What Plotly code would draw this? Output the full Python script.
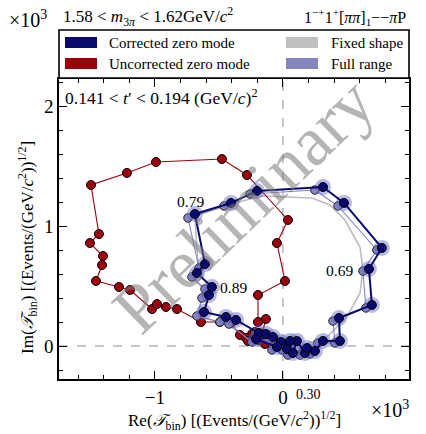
import plotly.graph_objects as go

# ---------------- data (units of 10^3) ----------------
red_re = [-0.023, -0.086, -0.141, -0.195, -0.242, -0.164, -0.133, -0.195, -0.195, 0.016, -0.047, 0.039,
          -0.281, -0.477, -0.992, -1.219, -1.500, -1.438, -1.508, -1.406, -1.414, -1.461, -1.281, -1.195,
          -1.023, -0.984, -0.914, -0.828, -0.641, -0.492, -0.406, -0.336, -0.289, -0.219, -0.273]
red_im = [0.025, 0.042, 0.017, 0.050, 0.100, 0.100, 0.225, 0.200, 0.425, 0.542, 0.858, 1.050,
          1.425, 1.558, 1.533, 1.442, 1.342, 0.933, 0.858, 0.750, 0.675, 0.542, 0.492, 0.467,
          0.308, 0.350, 0.325, 0.308, 0.200, 0.200, 0.192, 0.092, 0.067, 0.117, 0.042]

blue_re = [-0.016, 0.031, 0.078, 0.109, 0.172, 0.188, 0.250, 0.313, 0.445, 0.438, 0.695, 0.672,
           0.773, 0.477, 0.313, -0.203, -0.406, -0.688, -0.609, -0.672, -0.555, -0.578, -0.617,
           -0.445, -0.367, -0.188, -0.133, -0.078, -0.211, -0.047, 0.055]
blue_im = [0.033, -0.025, -0.058, 0.042, -0.058, -0.017, -0.042, 0.042, 0.042, 0.233, 0.342, 0.642,
           0.817, 1.192, 1.325, 1.292, 1.192, 1.100, 0.683, 0.608, 0.492, 0.425, 0.283,
           0.242, 0.217, 0.108, 0.100, 0.075, 0.058, -0.008, 0.042]

full_re = [-0.055, -0.008, 0.039, 0.070, 0.133, 0.156, 0.211, 0.273, 0.406, 0.391, 0.648, 0.625,
           0.734, 0.430, 0.250, -0.258, -0.461, -0.742, -0.656, -0.711, -0.609, -0.633, -0.672,
           -0.492, -0.422, -0.242, -0.180, -0.117, -0.086, 0.016]
full_im = [0.008, -0.033, -0.075, 0.025, -0.075, -0.042, -0.067, 0.025, 0.025, 0.208, 0.317, 0.625,
           0.800, 1.167, 1.300, 1.267, 1.167, 1.067, 0.650, 0.575, 0.475, 0.400, 0.250,
           0.200, 0.183, 0.033, 0.067, 0.050, -0.033, 0.008]

fixed_re = [-0.117, 0.016, 0.133, 0.234, 0.344, 0.500, 0.602, 0.625, 0.602, 0.484, 0.367, 0.227,
            -0.164, -0.375, -0.688, -0.664, -0.703, -0.609, -0.641, -0.656, -0.461, -0.313, -0.195, -0.117]
fixed_im = [0.042, 0.008, 0.000, 0.033, 0.075, 0.242, 0.442, 0.633, 0.825, 1.050, 1.175, 1.233,
            1.250, 1.192, 1.083, 0.667, 0.567, 0.467, 0.383, 0.250, 0.183, 0.108, 0.058, 0.042]

mass_labels = ["0.79", "0.89", "0.69"]
mass_label_re = [-0.72, -0.39, 0.44]
mass_label_im = [1.205, 0.49, 0.63]

x_range = [-1.75, 0.985]
y_range = [-0.275, 2.225]

# ---------------- figure ----------------
W, H = 426, 434
ML, MR, MT, MB = 59, 17, 79, 55
PW, PH = W - ML - MR, H - MT - MB

def px(xp):
    return (xp - ML) / PW

def py(yp):
    return (H - MB - yp) / PH

SERIF = "Liberation Serif, Times New Roman, serif"
NAVY = "#0a0a6e"
RED = "#9c0010"
LAV = "#8686c2"
GREY = "#bdbdbd"

fig = go.Figure()

fig.add_trace(go.Scatter(x=fixed_re, y=fixed_im, mode="lines",
                         line=dict(color=GREY, width=1.6), hoverinfo="skip"))
fig.add_trace(go.Scatter(x=red_re, y=red_im, mode="lines+markers",
                         line=dict(color=RED, width=1.1),
                         marker=dict(size=9, color=RED, line=dict(color="black", width=1))))
fig.add_trace(go.Scatter(x=full_re, y=full_im, mode="lines+markers",
                         line=dict(color=LAV, width=1.1),
                         marker=dict(size=8.5, color=LAV, line=dict(color="#222", width=1))))
fig.add_trace(go.Scatter(x=blue_re, y=blue_im, mode="markers",
                         marker=dict(size=16, color="rgba(100,100,200,0.45)", line=dict(width=0))))
fig.add_trace(go.Scatter(x=blue_re, y=blue_im, mode="lines+markers",
                         line=dict(color=NAVY, width=2),
                         marker=dict(size=9, color=NAVY, line=dict(color="black", width=1))))

axis_common = dict(showline=True, linecolor="black", linewidth=1.6, mirror="ticks",
                   ticks="inside", ticklen=8, tickwidth=1, tickcolor="black",
                   showgrid=False, zeroline=False,
                   tickfont=dict(family=SERIF, size=19, color="black"),
                   minor=dict(ticks="inside", ticklen=4, tickwidth=1, tickcolor="black",
                              dtick=0.2, tick0=0, showgrid=False))

fig.update_xaxes(range=x_range, dtick=1, tick0=0, **axis_common)
fig.update_yaxes(range=y_range, dtick=1, tick0=0, **axis_common)

shapes = [
    dict(type="line", xref="x", yref="paper", x0=0, x1=0, y0=0, y1=1,
         line=dict(color="#909090", width=1, dash="dash"), layer="below"),
    dict(type="line", xref="paper", yref="y", x0=0, x1=1, y0=0, y1=0,
         line=dict(color="#909090", width=1, dash="dash"), layer="below"),
    # legend frame
    dict(type="rect", xref="paper", yref="paper", x0=0, x1=1, y0=py(78), y1=py(30),
         line=dict(color="black", width=1.6), fillcolor="white"),
    dict(type="rect", xref="paper", yref="paper", x0=px(65), x1=px(97), y0=py(48), y1=py(37),
         line=dict(width=0), fillcolor=NAVY),
    dict(type="rect", xref="paper", yref="paper", x0=px(65), x1=px(97), y0=py(69), y1=py(58),
         line=dict(width=0), fillcolor="#990008"),
    dict(type="rect", xref="paper", yref="paper", x0=px(286), x1=px(318), y0=py(48), y1=py(37),
         line=dict(width=0), fillcolor="#c0c0c0"),
    dict(type="rect", xref="paper", yref="paper", x0=px(286), x1=px(318), y0=py(69), y1=py(58),
         line=dict(width=0), fillcolor="#8585c0"),
]

def ann(text, xp, yp, size=14, xanchor="left", yanchor="middle", color="black", **kw):
    return dict(text=text, xref="paper", yref="paper", x=px(xp), y=py(yp),
                xanchor=xanchor, yanchor=yanchor, showarrow=False,
                font=dict(family=SERIF, size=size, color=color), **kw)

annotations = [
    ann("×10<sup>3</sup>", 7, 19, size=20),
    ann("1.58 &lt; <i>m</i><sub>3<i>π</i></sub> &lt; 1.62GeV/<i>c</i><sup>2</sup>", 61, 17, size=17),
    ann("1<sup>−+</sup>1<sup>+</sup>[<i>ππ</i>]<sub>1</sub>−−<i>π</i>P", 408, 17, size=16, xanchor="right"),
    ann("Corrected zero mode", 107, 43, size=15),
    ann("Uncorrected zero mode", 107, 64, size=15),
    ann("Fixed shape", 329, 43, size=15),
    ann("Full range", 329, 64, size=15),
    ann("0.141 &lt; <i>t</i>′ &lt; 0.194 (GeV/<i>c</i>)<sup>2</sup>", 63, 97, size=17.5),
    ann("Re(<i>𝒯</i><sub>bin</sub>) [(Events/(GeV/<i>c</i><sup>2</sup>))<sup>1/2</sup>]",
        234, 420, size=17, xanchor="center"),
    ann("Im(<i>𝒯</i><sub>bin</sub>) [(Events/(GeV/<i>c</i><sup>2</sup>))<sup>1/2</sup>]",
        27, 248, size=17, xanchor="center", textangle=-90),
    ann("×10<sup>3</sup>", 411, 409, size=20, xanchor="right"),
    ann("0.30", 294, 394, size=14),
    ann("Preliminary", 243, 205, size=70, xanchor="center", textangle=-44,
        color="rgba(120,120,120,0.55)"),
]

for t, xr, yr in zip(mass_labels, mass_label_re, mass_label_im):
    annotations.append(dict(text=t, x=xr, y=yr, xref="x", yref="y", showarrow=False,
                            xanchor="center", yanchor="middle",
                            font=dict(family=SERIF, size=15.5, color="black")))

fig.update_layout(width=W, height=H, margin=dict(l=ML, r=MR, t=MT, b=MB),
                  paper_bgcolor="white", plot_bgcolor="white", showlegend=False,
                  shapes=shapes, annotations=annotations)

fig.write_html("out.html")
